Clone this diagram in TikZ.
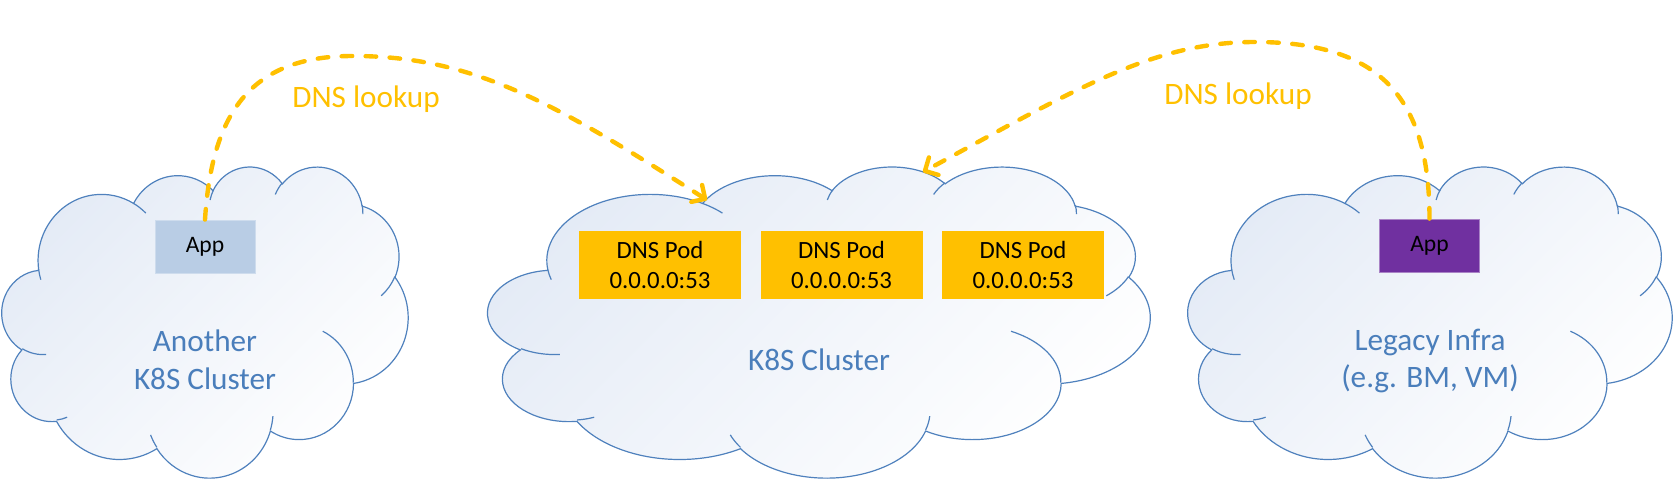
\documentclass[tikz,border=0pt]{standalone}
\usepackage{fontspec}
\setmainfont{Carlito}
\usetikzlibrary{arrows.meta}

\definecolor{dnsgold}{RGB}{255,192,0}
\definecolor{appblue}{RGB}{185,205,229}
\definecolor{apppurple}{RGB}{112,48,160}
\definecolor{cloudline}{RGB}{79,129,189}
\definecolor{cloudtext}{RGB}{74,126,187}
\definecolor{cloudfill}{RGB}{228,235,246}

% one bump of the cloud: x radius, y radius, start angle, sweep
\newcommand\puff[4]{arc[start angle={ptang(#3,#1,#2)}, end angle={ptang(#3+#4,#1,#2)}, x radius=#1, y radius=#2]}

\tikzset{
  declare function={ptang(\ang,\rxx,\ryy)=(\ang)+mod(atan2(\rxx*sin(\ang),\ryy*cos(\ang))-(\ang)+900,360)-180;},
  cloudbody/.style={draw=cloudline, line width=0.6pt, top color=cloudfill, bottom color=white, shading angle=45},
  cloudedge/.style={draw=cloudline, line width=0.6pt},
  puffcloud/.pic={
    \path[cloudbody] (39.00,143.70)
      \puff{67.53}{91.90}{-190.4875}{123.7805}
      \puff{53.33}{72.67}{-144.1024}{89.9452}
      \puff{43.65}{59.45}{-145.8079}{99.7230}
      \puff{48.57}{65.95}{-130.9861}{117.2417}
      \puff{53.33}{72.73}{-78.7089}{109.0269}
      \puff{67.75}{92.20}{-46.2673}{130.2690}
      \puff{57.85}{78.67}{0.6250}{114.0333}
      \puff{67.52}{92.15}{22.4516}{115.1726}
      \puff{77.20}{105.43}{66.2426}{75.7110}
      \puff{43.60}{59.18}{-274.9421}{146.7356}
      \puff{43.45}{59.45}{-246.8285}{152.5189}
      -- cycle;
    \path[cloudedge]
      (46.93,261.77) \puff{43.45}{59.45}{86.7420}{26.4295}
      (69.28,348.99) \puff{43.60}{59.18}{73.6105}{11.4475}
      (164.78,390.90) \puff{67.52}{92.15}{137.6242}{14.0811}
      (288.27,347.51) \puff{67.52}{92.15}{6.4533}{15.9984}
      (341.29,229.54) \puff{57.85}{78.67}{-70.2924}{70.9174}
      (417.98,153.54) \puff{53.33}{72.73}{30.3180}{27.7515}
      (383.24,54.26) \puff{48.57}{65.95}{-13.7443}{14.8589}
      (290.78,39.52) \puff{48.57}{65.95}{-149.1815}{18.1954}
      (221.41,47.20) \puff{43.65}{59.45}{-163.4943}{17.6864}
      (140.00,51.92) \puff{67.53}{91.90}{-66.7070}{12.3194}
      (41.27,157.89) \puff{67.53}{91.90}{157.6544}{11.8582};
  },
  appbox/.style={minimum width=50pt, minimum height=26.5pt, inner sep=0pt, font=\fontsize{11.8}{14}\selectfont},
  podbox/.style={fill=dnsgold, minimum width=81pt, minimum height=34pt, inner sep=0pt, align=center, font=\fontsize{12.4}{15}\selectfont},
  cloudlabel/.style={text=cloudtext, align=center, inner sep=0pt, font=\fontsize{15.6}{18.8}\selectfont},
  lookuplabel/.style={text=dnsgold, inner sep=0pt, font=\fontsize{15.6}{18}\selectfont},
  lookup/.style={draw=dnsgold, line width=2.2pt, line cap=round, dash pattern=on 5.3pt off 6.7pt, -{Straight Barb[length=5pt,width=10pt,round]}}
}

\begin{document}
\begin{tikzpicture}[x=0.5pt, y=-0.5pt]
  \useasboundingbox (0,0) rectangle (1674,480);

  % clouds
  \begin{scope}[shift={(2,166)}, x=0.46991pt, y=-0.35995pt]
    \pic {puffcloud};
  \end{scope}
  \begin{scope}[shift={(488,166)}, x=0.76620pt, y=-0.35995pt]
    \pic {puffcloud};
  \end{scope}
  \begin{scope}[shift={(1188,166)}, x=0.56019pt, y=-0.35995pt]
    \pic {puffcloud};
  \end{scope}

  \node (appA) [appbox, fill=appblue, draw=appblue!70!white] at (205,246.5) {App};
  \node (appB) [appbox, fill=apppurple, draw=apppurple!60!white] at (1429.5,245.5) {App};

  \node (pod1) [podbox] at (660,265) {DNS Pod\\0.0.0.0:53};
  \node (pod2) [podbox] at (841.5,265) {DNS Pod\\0.0.0.0:53};
  \node (pod3) [podbox] at (1023,265) {DNS Pod\\0.0.0.0:53};

  \node (another) [cloudlabel] at (205,360) {Another\\K8S Cluster};
  \node (k8s) [cloudlabel] at (819,360) {K8S Cluster};
  \node (legacy) [cloudlabel] at (1430,361) {Legacy Infra\\(e.g. BM, VM)};

  \node (lookupA) [lookuplabel, anchor=base] at (366,108) {DNS lookup};
  \node (lookupB) [lookuplabel, anchor=base] at (1238,105) {DNS lookup};

  \coordinate (topA) at (353,56);
  \coordinate (tipA) at (707,200);
  \coordinate (topB) at (1255,42);
  \coordinate (tipB) at (923,172);

  \draw[lookup] (appA.north) .. controls +(7,-110) and +(-100,0) .. (topA) .. controls +(120,0) and +(-152,-97) .. (tipA);
  \draw[lookup] (appB.north) .. controls +(0,-124) and +(122,0) .. (topB) .. controls +(-100,0) and +(158,-86) .. (tipB);
\end{tikzpicture}
\end{document}
